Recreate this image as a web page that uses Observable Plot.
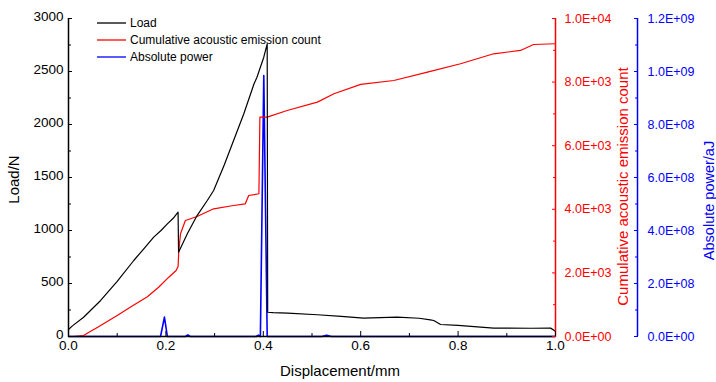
<!DOCTYPE html>
<html><head><meta charset="utf-8">
<script src="https://cdn.jsdelivr.net/npm/d3@7"></script>
<script src="https://cdn.jsdelivr.net/npm/@observablehq/plot@0.6"></script>
<style>body{margin:0;background:#fff}#chart svg{display:block}</style>
</head><body><div id="chart"></div>
<script>
// Load curve (displacement mm, load N)
const loadX = [0.000,0.008,0.031,0.066,0.100,0.134,0.155,0.175,0.190,0.203,0.215,0.225,0.226,0.244,0.264,0.285,0.298,0.320,0.339,0.360,0.381,0.387,0.401,0.408,0.409,0.420,0.450,0.511,0.560,0.606,0.640,0.675,0.720,0.743,0.750,0.764,0.800,0.873,0.950,0.990,1.000];
const loadN = [66,100,182,340,520,717,830,937,1000,1063,1115,1173,795,969,1141,1283,1377,1620,1849,2101,2384,2446,2635,2761,229,225,220,205,190,173,178,182,172,157,151,113,105,79,78,79,50];
// Cumulative acoustic emission count
const countX = [0.000,0.010,0.031,0.042,0.060,0.100,0.130,0.162,0.185,0.206,0.221,0.225,0.2265,0.230,0.240,0.264,0.298,0.339,0.363,0.370,0.391,0.393,0.408,0.449,0.511,0.545,0.600,0.668,0.737,0.805,0.873,0.928,0.955,1.000];
const countV = [0,0,31,135,290,660,950,1250,1550,1865,2075,2200,2705,3230,3648,3774,4016,4120,4173,4434,4488,6897,6900,7108,7370,7633,7930,8051,8312,8576,8890,8995,9183,9206];
// Absolute power (aJ)
const powerX = [0.000,0.189,0.197,0.203,0.240,0.245,0.250,0.385,0.390,0.394,0.401,0.408,0.520,0.530,0.540,1.000];
const powerV = [0,0,7.3e7,0,0,6e6,0,0,5e6,0,9.85e8,0,0,5e6,0,0];

const xTicks = [0,0.2,0.4,0.6,0.8,1.0];
const xMinor = [0.1,0.3,0.5,0.7,0.9];
const loadTicks = [0,500,1000,1500,2000,2500,3000];
const loadMinor = [250,750,1250,1750,2250,2750];
const countTicks = [0,2000,4000,6000,8000,10000];
const countMinor = [1000,3000,5000,7000,9000];
const powerTicks = [0,2e8,4e8,6e8,8e8,1e9,1.2e9];
const powerMinor = [1e8,3e8,5e8,7e8,9e8,1.1e9];
const seriesNames = ["Load","Cumulative acoustic emission count","Absolute power"];
const seriesColors = ["#000000","#ff0000","#0000ff"];
const axisTitles = ["Displacement/mm","Load/N","Cumulative acoustic emission count","Absolute power/aJ"];

const LOAD_MAX = 3000, COUNT_MAX = 10000, POWER_MAX = 1.2e9;
const kc = LOAD_MAX / COUNT_MAX, kp = LOAD_MAX / POWER_MAX;
const sci = v => { const [m, e] = v.toExponential(1).split("e"); const n = +e; return m + "E" + (n < 0 ? "-" : "+") + String(Math.abs(n)).padStart(2, "0"); };

const loadData = loadX.map((x, i) => ({x, y: loadN[i]}));
const countData = countX.map((x, i) => ({x, y: countV[i] * kc}));
const powerData = powerX.map((x, i) => ({x, y: powerV[i] * kp}));

const FONT = "'Liberation Sans', Arial, Helvetica, sans-serif";
const RED = seriesColors[1], BLUE = seriesColors[2];
const BLUE_DX = 82;

const chart = Plot.plot({
  width: 716, height: 382,
  marginTop: 18, marginLeft: 68, marginRight: 161, marginBottom: 46,
  x: {domain: [0, 1]},
  y: {domain: [0, LOAD_MAX]},
  style: {fontFamily: FONT, background: "#fff", overflow: "visible"},
  marks: [
    Plot.line(powerData, {x: "x", y: "y", stroke: BLUE, strokeWidth: 1.6}),
    Plot.line(countData, {x: "x", y: "y", stroke: RED, strokeWidth: 1.2}),
    Plot.line(loadData, {x: "x", y: "y", stroke: seriesColors[0], strokeWidth: 1.2}),
    // axis lines
    Plot.ruleX([0], {stroke: "#000", strokeWidth: 1.5}),
    Plot.ruleY([0], {stroke: "#000", strokeWidth: 1.5}),
    Plot.ruleX([1], {stroke: RED, strokeWidth: 1.5}),
    Plot.ruleX([1], {stroke: BLUE, strokeWidth: 1.5, dx: BLUE_DX}),
    // bottom axis
    Plot.axisX(xTicks, {tickSize: 0, tickPadding: 4, tickFormat: d3.format(".1f"), fontSize: 13.5, fill: "#000", label: null}),
    Plot.axisX(xTicks, {tickSize: -5, tickFormat: () => "", label: null, stroke: "#000"}),
    Plot.axisX(xMinor, {tickSize: -3, tickFormat: () => "", label: null, stroke: "#000"}),
    // left axis
    Plot.axisY(loadTicks, {anchor: "left", tickSize: 0, tickPadding: 5, tickFormat: d => String(d), fontSize: 13.5, fill: "#000", label: null, dy: -2}),
    Plot.axisY(loadTicks, {anchor: "left", tickSize: -4, tickFormat: () => "", label: null, stroke: "#000"}),
    Plot.axisY(loadMinor, {anchor: "left", tickSize: -3, tickFormat: () => "", label: null, stroke: "#000"}),
    // red axis
    Plot.axisY(countTicks.map(v => v * kc), {anchor: "right", tickSize: 0, tickPadding: 9, tickFormat: d => sci(d / kc), fontSize: 12.5, fill: RED, label: null}),
    Plot.axisY(countTicks.map(v => v * kc), {anchor: "right", tickSize: -4, tickFormat: () => "", label: null, stroke: RED}),
    Plot.axisY(countMinor.map(v => v * kc), {anchor: "right", tickSize: -3, tickFormat: () => "", label: null, stroke: RED}),
    // blue axis
    Plot.axisY(powerTicks.map(v => v * kp), {anchor: "right", dx: BLUE_DX, tickSize: 0, tickPadding: 10, tickFormat: d => sci(d / kp), fontSize: 12.5, fill: BLUE, label: null}),
    Plot.axisY(powerTicks.map(v => v * kp), {anchor: "right", dx: BLUE_DX, tickSize: -4, tickFormat: () => "", label: null, stroke: BLUE}),
    Plot.axisY(powerMinor.map(v => v * kp), {anchor: "right", dx: BLUE_DX, tickSize: -3, tickFormat: () => "", label: null, stroke: BLUE}),
    // axis titles
    Plot.text([axisTitles[0]], {frameAnchor: "bottom", textAnchor: "middle", text: d => d, dx: 28, dy: 39, fontSize: 15, fill: "#000"}),
    Plot.text([axisTitles[1]], {frameAnchor: "left", textAnchor: "middle", text: d => d, rotate: -90, dx: -54, dy: 2, fontSize: 15, fill: "#000"}),
    Plot.text([axisTitles[2]], {frameAnchor: "right", textAnchor: "middle", text: d => d, rotate: -90, dx: 68, dy: 9, fontSize: 15, fill: RED}),
    Plot.text([axisTitles[3]], {frameAnchor: "right", textAnchor: "middle", text: d => d, rotate: -90, dx: 154, dy: 23, fontSize: 14.5, fill: BLUE})
  ]
});

// legend
const svg = d3.select(chart);
const lg = svg.append("g").attr("font-family", FONT).attr("font-size", 12).attr("text-anchor", "start");
seriesNames.forEach((name, i) => {
  const y = 23 + i * 17;
  lg.append("line").attr("x1", 97).attr("x2", 126).attr("y1", y).attr("y2", y)
    .attr("stroke", seriesColors[i]).attr("stroke-width", 1.3);
  lg.append("text").attr("x", 130).attr("y", y).attr("dy", "0.35em").attr("text-anchor", "start").attr("fill", "#000").text(name);
});

document.getElementById("chart").appendChild(chart);
</script>
</body></html>
